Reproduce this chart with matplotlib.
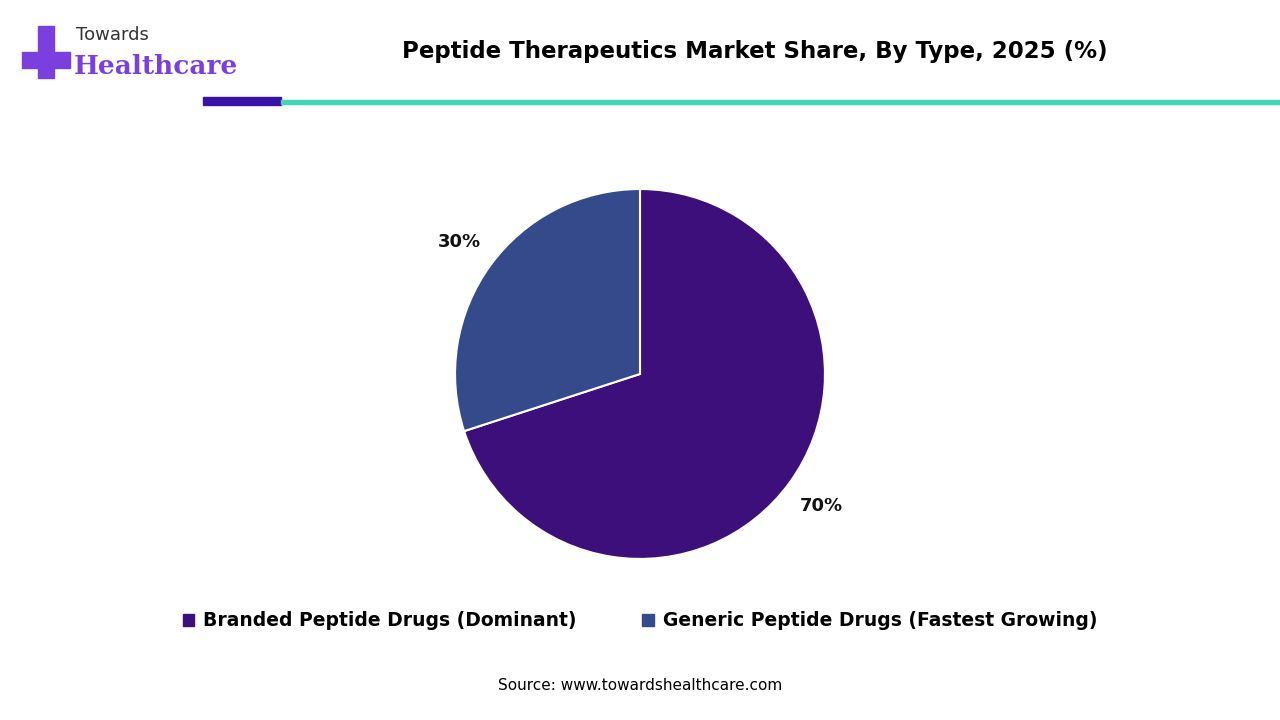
import matplotlib.pyplot as plt
from matplotlib.patches import Rectangle

categories = ['Branded Peptide Drugs (Dominant)', 'Generic Peptide Drugs (Fastest Growing)']
shares = [70, 30]
colors = ['#3d0f7a', '#344a8a']

fig = plt.figure(figsize=(12.8, 7.2), dpi=100)
fig.patch.set_facecolor('white')

# header
fig.text(0.59, 0.928, 'Peptide Therapeutics Market Share, By Type, 2025 (%)',
         ha='center', va='center', fontsize=16.5, fontweight='bold', family='DejaVu Sans')
fig.patches.append(Rectangle((203/1280, 1-105/720), 78/1280, 8/720, transform=fig.transFigure,
                             color='#3a12a8', zorder=3))
fig.patches.append(Rectangle((281/1280, 1-104/720), 1000/1280, 4/720, transform=fig.transFigure,
                             color='#3fd6b0', zorder=3))
# logo
fig.patches.append(Rectangle((22/1280, 1-68/720), 48/1280, 16/720, transform=fig.transFigure, color='#7b3fe0'))
fig.patches.append(Rectangle((38/1280, 1-78/720), 16/1280, 52/720, transform=fig.transFigure, color='#7b3fe0'))
fig.text(76/1280, 1-35/720, 'Towards', fontsize=13, color='#333333', va='center')
fig.text(74/1280, 1-66/720, 'Healthcare', fontsize=19, color='#7b3fe0', fontweight='bold',
         family='DejaVu Serif', va='center')

ax = fig.add_axes([0.3555, 0.2236, 0.289, 0.514])
ax.pie(shares, colors=colors, startangle=90, counterclock=False,
       autopct='%d%%', pctdistance=1.21,
       wedgeprops=dict(edgecolor='white', linewidth=1.5),
       textprops=dict(fontsize=13, fontweight='bold', color='#111111'))
ax.set_xlim(-1, 1)
ax.set_ylim(-1, 1)
ax.set_aspect('equal')
for t in ax.texts:
    t.set_clip_on(False)

handles = [Rectangle((0, 0), 1, 1, color=c) for c in colors]
fig.legend(handles, categories, loc='center', bbox_to_anchor=(0.5, 1-621/720), ncol=2,
           frameon=False, handlelength=0.6, handleheight=0.6,
           columnspacing=3.5, handletextpad=0.5, prop=dict(size=13.5, weight='bold'))

fig.text(0.5, 1-686/720, 'Source: www.towardshealthcare.com', ha='center', va='center', fontsize=11)

fig.savefig('out.png', dpi=100)
